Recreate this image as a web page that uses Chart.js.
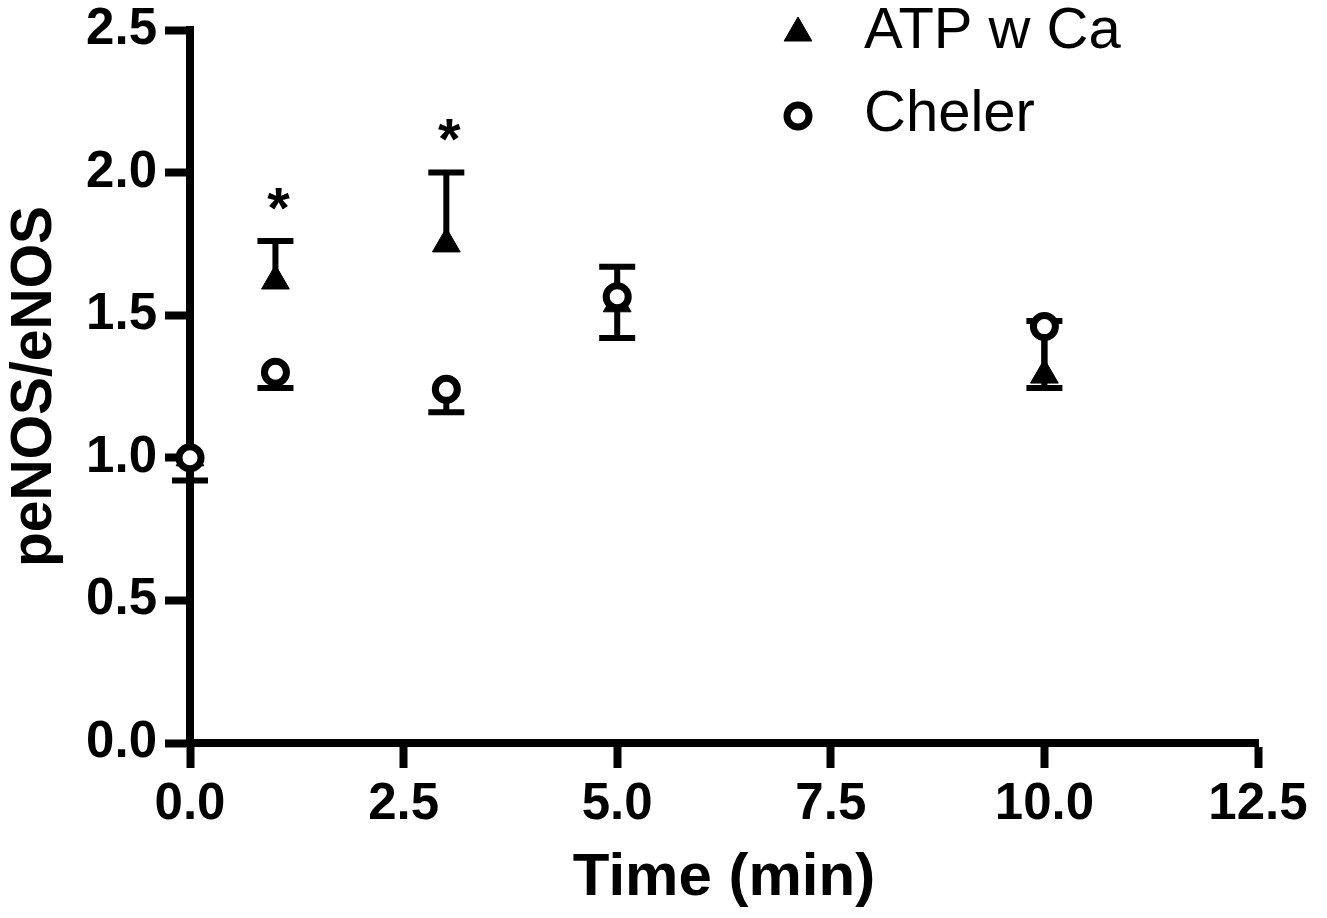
<!DOCTYPE html>
<html>
<head>
<meta charset="utf-8">
<title>peNOS/eNOS over time</title>
<script src="https://cdn.jsdelivr.net/npm/chart.js@4.4.1/dist/chart.umd.min.js"></script>
<style>
  html, body { margin: 0; padding: 0; background: #fff; }
  #wrap { width: 1327px; height: 918px; }
</style>
</head>
<body>
<div id="wrap"><canvas id="chart" width="1327" height="918"></canvas></div>
<script>
/* ===== data ===== */
const timeMin    = [0, 1, 3, 5, 10];
const atpMean    = [1.00, 1.62, 1.75, 1.54, 1.29];
const atpSem     = [0.00, 0.14, 0.25, 0.13, 0.19];   // drawn upward
const chelerMean = [1.00, 1.30, 1.24, 1.565, 1.46];
const chelerSem  = [0.08, 0.055, 0.08, 0.145, 0.215]; // drawn downward

const sigTime  = [1, 3];      // asterisks
const sigLevel = [1.92, 2.165];

const xTicks = [0, 2.5, 5, 7.5, 10, 12.5];
const yTicks = [0, 0.5, 1.0, 1.5, 2.0, 2.5];

const seriesNames = ['ATP w Ca', 'Cheler'];

const FONT = "'Liberation Sans', Arial, Helvetica, sans-serif";

const pts = (xs, ys) => xs.map((x, i) => ({ x, y: ys[i] }));

/* ===== error bars, drawn under the markers ===== */
const errorBars = {
  id: 'errorBars',
  beforeDatasetsDraw(chart) {
    const { ctx, scales: { x, y } } = chart;
    ctx.save();
    ctx.strokeStyle = '#000';
    ctx.lineWidth = 6;
    ctx.lineCap = 'butt';
    chart.data.datasets.forEach(ds => {
      const dir = ds.errDir === 'up' ? 1 : -1;
      ds.data.forEach((p, i) => {
        const e = ds.sem[i];
        if (!e) return;
        const px = x.getPixelForValue(p.x);
        const y0 = y.getPixelForValue(p.y);
        const y1 = y.getPixelForValue(p.y + dir * e);
        ctx.beginPath();
        ctx.moveTo(px, y0); ctx.lineTo(px, y1);
        ctx.moveTo(px - 18, y1); ctx.lineTo(px + 18, y1);
        ctx.stroke();
      });
    });
    ctx.restore();
  }
};

/* ===== significance stars ===== */
const stars = {
  id: 'stars',
  afterDatasetsDraw(chart) {
    const { ctx, scales: { x, y } } = chart;
    ctx.save();
    ctx.fillStyle = '#000';
    ctx.font = `bold 58px ${FONT}`;
    ctx.textAlign = 'center';
    ctx.textBaseline = 'alphabetic';
    sigTime.forEach((t, i) => {
      ctx.fillText('*', x.getPixelForValue(t) + 3, y.getPixelForValue(sigLevel[i]) + 33);
    });
    ctx.restore();
  }
};

/* ===== legend, top right ===== */
const cornerLegend = {
  id: 'cornerLegend',
  afterDraw(chart) {
    const { ctx } = chart;
    const rows = [
      { y: 33, style: 'triangle', r: 16, bw: 1, fill: '#000' },
      { y: 116, style: 'circle', r: 11, bw: 7, fill: '#fff' }
    ];
    ctx.save();
    rows.forEach((row, i) => {
      ctx.fillStyle = row.fill;
      ctx.strokeStyle = '#000';
      ctx.lineWidth = row.bw;
      Chart.helpers.drawPoint(ctx, { pointStyle: row.style, radius: row.r, rotation: 0, borderWidth: row.bw }, 798, row.y);
      ctx.fillStyle = '#000';
      ctx.font = `58px ${FONT}`;
      ctx.textAlign = 'left';
      ctx.textBaseline = 'alphabetic';
      ctx.fillText(seriesNames[i], 864, row.y + 15);
    });
    ctx.restore();
  }
};

new Chart(document.getElementById('chart'), {
  type: 'scatter',
  data: {
    datasets: [
      {
        label: seriesNames[0],
        data: pts(timeMin, atpMean),
        sem: atpSem, errDir: 'up',
        pointStyle: 'triangle',
        pointRadius: 16,
        pointBorderWidth: 1,
        pointBackgroundColor: '#000',
        pointBorderColor: '#000',
        clip: false,
        order: 2
      },
      {
        label: seriesNames[1],
        data: pts(timeMin, chelerMean),
        sem: chelerSem, errDir: 'down',
        pointStyle: 'circle',
        pointRadius: 11,
        pointBorderWidth: 7,
        pointBackgroundColor: '#fff',
        pointBorderColor: '#000',
        clip: false,
        order: 1
      }
    ]
  },
  options: {
    responsive: false,
    animation: false,
    events: [],
    layout: { padding: { top: 30, right: 69, left: 0, bottom: 0 } },
    plugins: { legend: { display: false }, tooltip: { enabled: false } },
    scales: {
      x: {
        type: 'linear', min: 0, max: 12.5,
        afterFit(s) { s.height = 175; s.paddingLeft = 0; s.paddingRight = 0; },
        afterBuildTicks(s) { s.ticks = xTicks.map(v => ({ value: v })); },
        border: { display: true, color: '#000', width: 8 },
        grid: { drawOnChartArea: false, drawTicks: true, tickLength: 25, tickWidth: 8, tickColor: '#000' },
        ticks: {
          color: '#000', padding: 6, maxRotation: 0,
          font: { family: FONT, size: 51, weight: 'bold' },
          callback: v => Number(v).toFixed(1)
        },
        title: {
          display: true, text: 'Time (min)', color: '#000',
          font: { family: FONT, size: 60, weight: 'bold' },
          padding: { top: 0, bottom: 4 }
        }
      },
      y: {
        type: 'linear', min: 0, max: 2.5,
        afterFit(s) { s.width = 190; s.paddingTop = 0; s.paddingBottom = 0; },
        afterBuildTicks(s) { s.ticks = yTicks.map(v => ({ value: v })); },
        border: { display: true, color: '#000', width: 8 },
        grid: { drawOnChartArea: false, drawTicks: true, tickLength: 25, tickWidth: 8, tickColor: '#000' },
        ticks: {
          color: '#000', padding: 8,
          font: { family: FONT, size: 51, weight: 'bold' },
          callback: v => Number(v).toFixed(1)
        },
        title: {
          display: true, text: 'peNOS/eNOS', color: '#000',
          font: { family: FONT, size: 57, weight: 'bold' },
          padding: { top: 1, bottom: 0 }
        }
      }
    }
  },
  plugins: [errorBars, stars, cornerLegend]
});
</script>
</body>
</html>
